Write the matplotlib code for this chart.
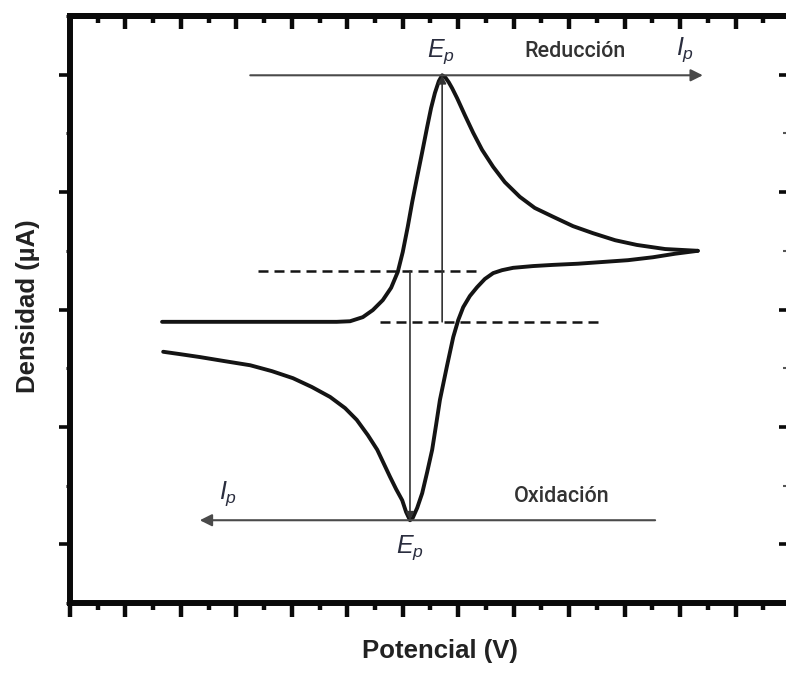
import numpy as np
import matplotlib
matplotlib.use("Agg")
import matplotlib.pyplot as plt
from matplotlib.ticker import MultipleLocator, FixedLocator, NullFormatter

plt.rcParams['font.family'] = ['Liberation Sans', 'DejaVu Sans']
plt.rcParams['mathtext.fontset'] = 'custom'
plt.rcParams['mathtext.it'] = 'Liberation Sans:italic'
plt.rcParams['mathtext.rm'] = 'Liberation Sans'

# barrido de reduccion (ida, de izquierda a derecha)
red_x = [1.66, 3.25, 4.81, 5.05, 5.28, 5.46, 5.64, 5.79, 5.91, 6.00, 6.09, 6.17,
         6.26, 6.35, 6.44, 6.51, 6.58, 6.65, 6.71, 6.77, 6.83, 6.89, 6.98, 7.12, 7.27,
         7.43, 7.63, 7.84, 8.11, 8.38, 8.71, 9.07, 9.43, 9.83, 10.22, 10.73, 11.32]
red_y = [4.79, 4.79, 4.79, 4.80, 4.87, 4.99, 5.16, 5.37, 5.64, 5.98, 6.41, 6.83,
         7.26, 7.68, 8.11, 8.43, 8.69, 8.89, 8.99, 8.95, 8.87, 8.77, 8.60, 8.31, 8.01,
         7.72, 7.43, 7.17, 6.92, 6.73, 6.58, 6.42, 6.30, 6.18, 6.10, 6.03, 6.00]

# barrido de oxidacion (vuelta, de derecha a izquierda)
ox_x = [11.32, 10.91, 10.51, 10.06, 9.61, 9.16, 8.71, 8.35, 7.99, 7.79, 7.63, 7.48,
        7.34, 7.21, 7.09, 7.00, 6.91, 6.80, 6.67, 6.60, 6.53, 6.44, 6.35, 6.26,
        6.18, 6.13, 6.06, 5.99, 5.88, 5.77, 5.66, 5.54, 5.37, 5.17, 4.96, 4.69,
        4.36, 4.02, 3.64, 3.25, 2.79, 2.34, 1.98, 1.68]
ox_y = [6.00, 5.95, 5.89, 5.84, 5.81, 5.78, 5.76, 5.74, 5.71, 5.67, 5.62, 5.52,
        5.38, 5.23, 5.04, 4.82, 4.53, 4.05, 3.46, 3.03, 2.61, 2.23, 1.87, 1.62,
        1.45, 1.41, 1.55, 1.75, 1.94, 2.15, 2.37, 2.61, 2.86, 3.12, 3.32, 3.51,
        3.68, 3.83, 3.95, 4.05, 4.12, 4.19, 4.24, 4.28]

# picos y lineas base
ep_red = (6.71, 8.99)
ep_ox = (6.13, 1.41)
base_red = 4.79
base_ox = 5.66
dash_red_x = [5.59, 9.56]
dash_ox_x = [3.39, 7.34]
arrow_red_x = [3.25, 11.41]
arrow_ox_x = [10.55, 2.34]

fig = plt.figure(figsize=(7.86, 6.73), dpi=100)
ax = fig.add_axes([70 / 786, 70 / 673, 721 / 786, 587 / 673])
ax.set_xlim(0, 13)
ax.set_ylim(0, 10)

ink = '#141414'
grey = '#4a4a4a'

ax.plot(red_x, red_y, color=ink, lw=2.8, solid_capstyle='round', solid_joinstyle='round')
ax.plot(ox_x, ox_y, color=ink, lw=2.8, solid_capstyle='round', solid_joinstyle='round')

ax.plot(dash_ox_x, [base_ox, base_ox], color=ink, lw=1.8, ls=(0, (4, 2.4)))
ax.plot(dash_red_x, [base_red, base_red], color=ink, lw=1.8, ls=(0, (4, 2.4)))

# flechas horizontales
ax.annotate('', xy=(arrow_red_x[1], ep_red[1]), xytext=(arrow_red_x[0], ep_red[1]),
            arrowprops=dict(arrowstyle='-|>', color=grey, lw=1.5, mutation_scale=18,
                            shrinkA=0, shrinkB=0))
ax.annotate('', xy=(arrow_ox_x[1], ep_ox[1]), xytext=(arrow_ox_x[0], ep_ox[1]),
            arrowprops=dict(arrowstyle='-|>', color=grey, lw=1.5, mutation_scale=18,
                            shrinkA=0, shrinkB=0))
# lineas verticales hasta los picos
ax.annotate('', xy=ep_red, xytext=(ep_red[0], base_red),
            arrowprops=dict(arrowstyle='-|>', color='#333333', lw=1.2, mutation_scale=12,
                            shrinkA=0, shrinkB=0))
ax.annotate('', xy=ep_ox, xytext=(ep_ox[0], base_ox),
            arrowprops=dict(arrowstyle='-|>', color='#333333', lw=1.2, mutation_scale=12,
                            shrinkA=0, shrinkB=0))

txtc = '#2a2d3e'
ax.text(6.69, 9.39, r'$E_p$', fontsize=18, color=txtc, ha='center', va='center')
ax.text(11.09, 9.42, r'$I_p$', fontsize=18, color=txtc, ha='center', va='center')
ax.text(2.85, 1.86, r'$I_p$', fontsize=18, color=txtc, ha='center', va='center')
ax.text(6.13, 0.94, r'$E_p$', fontsize=18, color=txtc, ha='center', va='center')
ax.text(9.11, 9.39, 'Reducción', fontsize=15.5, fontweight='medium', family='Roboto',
        color='#333333', ha='center', va='center')
ax.text(8.87, 1.81, 'Oxidación', fontsize=15.5, fontweight='medium', family='Roboto',
        color='#333333', ha='center', va='center')

# marco y marcas
for s in ax.spines.values():
    s.set_linewidth(4.3)
    s.set_color('#0a0a0a')

ax.xaxis.set_major_locator(MultipleLocator(1))
ax.xaxis.set_minor_locator(MultipleLocator(0.5))
ax.yaxis.set_major_locator(FixedLocator([1, 3, 5, 7, 9]))
ax.yaxis.set_minor_locator(FixedLocator([0, 2, 4, 6, 8, 10]))
ax.xaxis.set_major_formatter(NullFormatter())
ax.yaxis.set_major_formatter(NullFormatter())
ax.tick_params(axis='x', which='major', direction='out', length=10, width=3.2, color='#0a0a0a')
ax.tick_params(axis='x', which='minor', direction='out', length=5, width=3.2, color='#0a0a0a')
ax.tick_params(axis='y', which='major', direction='out', length=8, width=2.6, color='#0a0a0a')
ax.tick_params(axis='y', which='minor', direction='out', length=3, width=2.2, color='#0a0a0a')

top = ax.secondary_xaxis('top')
top.xaxis.set_major_locator(MultipleLocator(1))
top.xaxis.set_minor_locator(MultipleLocator(0.5))
top.xaxis.set_major_formatter(NullFormatter())
top.tick_params(which='major', direction='in', length=9, width=3.2, color='#0a0a0a')
top.tick_params(which='minor', direction='in', length=5, width=3.2, color='#0a0a0a')
top.spines['top'].set_linewidth(4.3)

right = ax.secondary_yaxis('right')
right.yaxis.set_major_locator(FixedLocator([1, 3, 5, 7, 9]))
right.yaxis.set_minor_locator(FixedLocator([0, 2, 4, 6, 8, 10]))
right.yaxis.set_major_formatter(NullFormatter())
right.tick_params(which='major', direction='in', length=9, width=2.6, color='#0a0a0a')
right.tick_params(which='minor', direction='in', length=6, width=1.5, color='#555555')

fig.text(28 / 786, 1 - 306 / 673, 'Densidad (µA)', rotation=90, fontsize=18.5,
         fontweight='bold', color='#222222', ha='center', va='center')
fig.text(440 / 786, 1 - 651 / 673, 'Potencial (V)', fontsize=18.5,
         fontweight='bold', color='#222222', ha='center', va='center')

fig.savefig('out.png', dpi=100, facecolor='white')
